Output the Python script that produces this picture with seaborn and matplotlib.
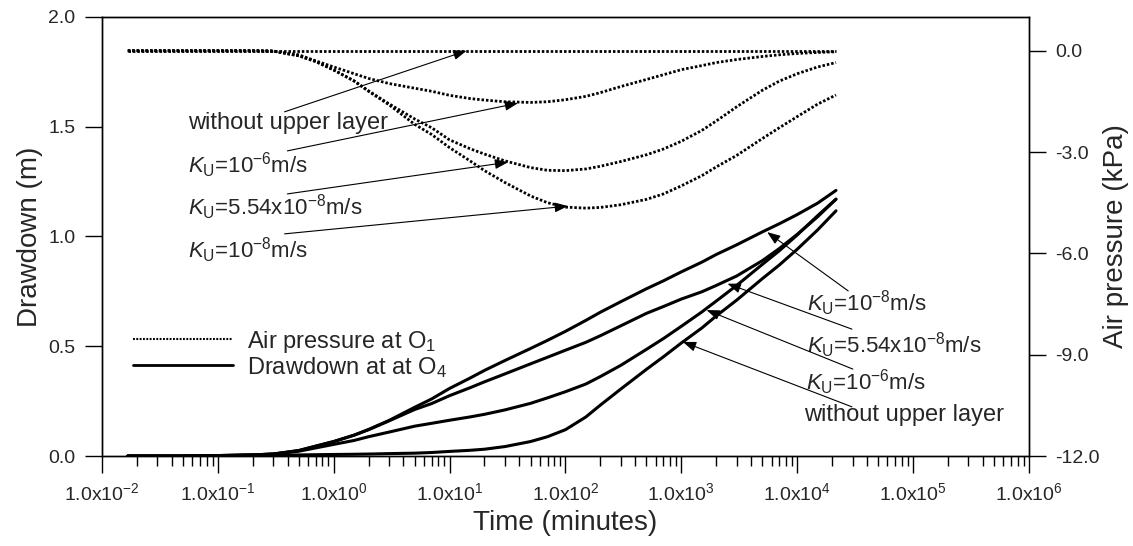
import numpy as np
import pandas as pd
import matplotlib
matplotlib.use('Agg')
import matplotlib.pyplot as plt
from matplotlib.lines import Line2D
from matplotlib.ticker import FixedLocator, FuncFormatter, LogLocator, NullFormatter
import seaborn as sns

# time in minutes
time_min = [0.0167, 0.05, 0.1, 0.2, 0.3, 0.5, 0.7, 1, 1.5, 2, 3, 5, 7, 10, 15, 20, 30, 50,
            70, 100, 150, 200, 300, 500, 700, 1000, 1500, 2000, 3000, 5000, 7000, 10000,
            15000, 21600]

# drawdown at O4 (m), left axis
drawdown_ku_1e8 = [0, 0, 0.002, 0.005, 0.009, 0.025, 0.045, 0.066, 0.095, 0.121, 0.162, 0.222,
                   0.26, 0.308, 0.355, 0.39, 0.435, 0.49, 0.527, 0.568, 0.618, 0.655, 0.703,
                   0.762, 0.798, 0.839, 0.883, 0.918, 0.962, 1.021, 1.058, 1.10, 1.152, 1.21]
drawdown_ku_554e8 = [0, 0, 0.002, 0.005, 0.009, 0.025, 0.045, 0.066, 0.095, 0.12, 0.16, 0.212,
                     0.239, 0.275, 0.311, 0.338, 0.374, 0.42, 0.45, 0.482, 0.518, 0.548, 0.593,
                     0.65, 0.681, 0.715, 0.748, 0.777, 0.82, 0.89, 0.945, 1.01, 1.09, 1.17]
drawdown_ku_1e6 = [0, 0, 0.002, 0.005, 0.009, 0.022, 0.037, 0.053, 0.071, 0.088, 0.109, 0.136,
                   0.149, 0.163, 0.178, 0.19, 0.21, 0.24, 0.265, 0.293, 0.328, 0.362, 0.413,
                   0.486, 0.535, 0.591, 0.656, 0.706, 0.777, 0.873, 0.935, 1.007, 1.095, 1.17]
drawdown_none = [0, 0, 0.001, 0.003, 0.004, 0.005, 0.006, 0.007, 0.008, 0.009, 0.011, 0.013,
                 0.016, 0.021, 0.026, 0.031, 0.043, 0.066, 0.088, 0.12, 0.178, 0.232, 0.305,
                 0.395, 0.452, 0.515, 0.583, 0.638, 0.71, 0.808, 0.87, 0.942, 1.03, 1.117]

# air pressure at O1 (kPa), right axis
pressure_ku_1e8 = [0, 0, 0, 0, -0.01, -0.15, -0.32, -0.57, -0.90, -1.20, -1.60, -2.18,
                   -2.48, -2.87, -3.26, -3.55, -3.90, -4.30, -4.50, -4.63, -4.66, -4.64, -4.56,
                   -4.40, -4.24, -4.00, -3.70, -3.44, -3.10, -2.60, -2.28, -1.95, -1.58, -1.31]
pressure_ku_554e8 = [0, 0, 0, 0, -0.01, -0.15, -0.32, -0.57, -0.89, -1.19, -1.57, -2.02,
                     -2.28, -2.64, -2.90, -3.06, -3.26, -3.46, -3.54, -3.55, -3.50, -3.42, -3.28,
                     -3.08, -2.91, -2.68, -2.36, -2.08, -1.66, -1.17, -0.90, -0.68, -0.48, -0.35]
pressure_ku_1e6 = [0, 0, 0, 0, -0.01, -0.12, -0.30, -0.48, -0.68, -0.82, -0.97, -1.11,
                   -1.20, -1.32, -1.415, -1.46, -1.51, -1.53, -1.51, -1.45, -1.35, -1.24, -1.06,
                   -0.85, -0.71, -0.56, -0.44, -0.35, -0.26, -0.17, -0.12, -0.08, -0.05, -0.03]
pressure_none = [0, 0, 0, 0, 0, 0, 0, 0, 0, 0, 0, 0, 0, 0, 0, 0, 0,
                 0, 0, 0, 0, 0, 0, 0, 0, 0, 0, 0, 0, 0, 0, 0, 0, 0]

cases = ['1e-8', '5.54e-8', '1e-6', 'none']
drawdown = [drawdown_ku_1e8, drawdown_ku_554e8, drawdown_ku_1e6, drawdown_none]
pressure = [pressure_ku_1e8, pressure_ku_554e8, pressure_ku_1e6, pressure_none]

x_ticks = [1e-2, 1e-1, 1e0, 1e1, 1e2, 1e3, 1e4, 1e5, 1e6]
left_ticks = [0.0, 0.5, 1.0, 1.5, 2.0]
right_ticks = [0.0, -3.0, -6.0, -9.0, -12.0]

ku_labels = {
    '1e-8': r'$\mathit{K}_{\mathrm{U}}$=10$^{-8}$m/s',
    '5.54e-8': r'$\mathit{K}_{\mathrm{U}}$=5.54x10$^{-8}$m/s',
    '1e-6': r'$\mathit{K}_{\mathrm{U}}$=10$^{-6}$m/s',
    'none': 'without upper layer',
}


def long_frame(values, name):
    rows = []
    for case, vals in zip(cases, values):
        for t, v in zip(time_min, vals):
            rows.append({'time': t, name: v, 'case': case})
    return pd.DataFrame(rows)


sns.set_theme(style='ticks')
plt.rcParams['font.family'] = ['Liberation Sans', 'DejaVu Sans']
plt.rcParams['mathtext.fontset'] = 'custom'
plt.rcParams['mathtext.rm'] = 'Liberation Sans'
plt.rcParams['mathtext.it'] = 'Liberation Sans:italic'
plt.rcParams['mathtext.bf'] = 'Liberation Sans:bold'
plt.rcParams['axes.unicode_minus'] = False
plt.rcParams['axes.edgecolor'] = 'black'
plt.rcParams['axes.linewidth'] = 1.0

dd_df = long_frame(drawdown, 'drawdown')
pr_df = long_frame(pressure, 'pressure')

dots = (0, (0.9, 0.7))

fig = plt.figure(figsize=(11.33, 5.46), dpi=100)
ax = fig.add_axes([0.0900, 0.1648, 0.8182, 0.8041])
ax2 = ax.twinx()

sns.lineplot(data=dd_df, x='time', y='drawdown', units='case', estimator=None,
             color='black', lw=2.2, ax=ax)
sns.lineplot(data=pr_df, x='time', y='pressure', units='case', estimator=None,
             color='black', lw=2.0, linestyle=dots, ax=ax2)

ax.set_xscale('log')
ax.set_xlim(1e-2, 1e6)
ax.set_ylim(0, 2)
ax2.set_ylim(-12, 1)

ax.xaxis.set_major_locator(FixedLocator(x_ticks))
ax.xaxis.set_major_formatter(FuncFormatter(
    lambda v, p: r'1.0x10$^{%d}$' % int(round(np.log10(v)))))
ax.xaxis.set_minor_locator(LogLocator(base=10, subs=np.arange(2, 10), numticks=100))
ax.xaxis.set_minor_formatter(NullFormatter())
ax.set_yticks(left_ticks)
ax.yaxis.set_major_formatter(FuncFormatter(lambda v, p: '%.1f' % v))
ax2.set_yticks(right_ticks)
ax2.yaxis.set_major_formatter(FuncFormatter(lambda v, p: '%.1f' % v))

ax.tick_params(axis='both', which='major', direction='out', length=12, width=1,
               labelsize=14, pad=7, color='black')
ax.tick_params(axis='x', which='minor', direction='out', length=7, width=1, color='black')
ax.tick_params(top=False, right=False, which='both')
ax2.tick_params(axis='y', which='major', direction='out', length=12, width=1,
                labelsize=14, pad=7, color='black')

ax.set_xlabel('Time (minutes)', fontsize=20, labelpad=4)
ax.set_ylabel('Drawdown (m)', fontsize=20, labelpad=4)
ax2.set_ylabel('Air pressure (kPa)', fontsize=20, labelpad=2)

handles = [Line2D([], [], color='black', lw=1.5, linestyle=dots),
           Line2D([], [], color='black', lw=2.0)]
ax.legend(handles, [r'Air pressure at O$_{1}$', r'Drawdown at at O$_{4}$'],
          loc='upper left', bbox_to_anchor=(0.033, 0.29), frameon=False, fontsize=17,
          handlelength=4.25, handletextpad=0.6, labelspacing=0.0, borderaxespad=0, borderpad=0)

arrow = dict(arrowstyle='-|>,head_length=0.8,head_width=0.3', color='black', lw=0.8,
             shrinkA=0, shrinkB=0, mutation_scale=10)


def note_size(case):
    return 17 if case == 'none' else 16


# air pressure labels (left group), heads on the dotted curves
left_notes = [
    ('none', (14, 0.0), (0.197, 0.784), (0.093, 0.759)),
    ('1e-6', (39, -1.55), (0.200, 0.695), (0.093, 0.663)),
    ('5.54e-8', (32, -3.3), (0.200, 0.597), (0.093, 0.567)),
    ('1e-8', (105, -4.6), (0.197, 0.506), (0.093, 0.469)),
]
for case, head, tail, txt in left_notes:
    ax2.annotate('', xy=head, xycoords='data', xytext=tail, textcoords='axes fraction',
                 arrowprops=arrow)
    ax2.text(txt[0], txt[1], ku_labels[case], transform=ax2.transAxes,
             fontsize=note_size(case), ha='left', va='center')

# drawdown labels (right group), heads on the solid curves
right_notes = [
    ('1e-8', (5500, 1.02), (0.805, 0.376), (0.761, 0.349)),
    ('5.54e-8', (2500, 0.785), (0.809, 0.289), (0.761, 0.253)),
    ('1e-6', (1650, 0.665), (0.810, 0.198), (0.759, 0.169)),
    ('none', (1030, 0.52), (0.809, 0.112), (0.757, 0.093)),
]
for case, head, tail, txt in right_notes:
    ax.annotate('', xy=head, xycoords='data', xytext=tail, textcoords='axes fraction',
                arrowprops=arrow)
    ax.text(txt[0], txt[1], ku_labels[case], transform=ax.transAxes,
            fontsize=note_size(case), ha='left', va='center')

fig.savefig('out.png', dpi=100)
